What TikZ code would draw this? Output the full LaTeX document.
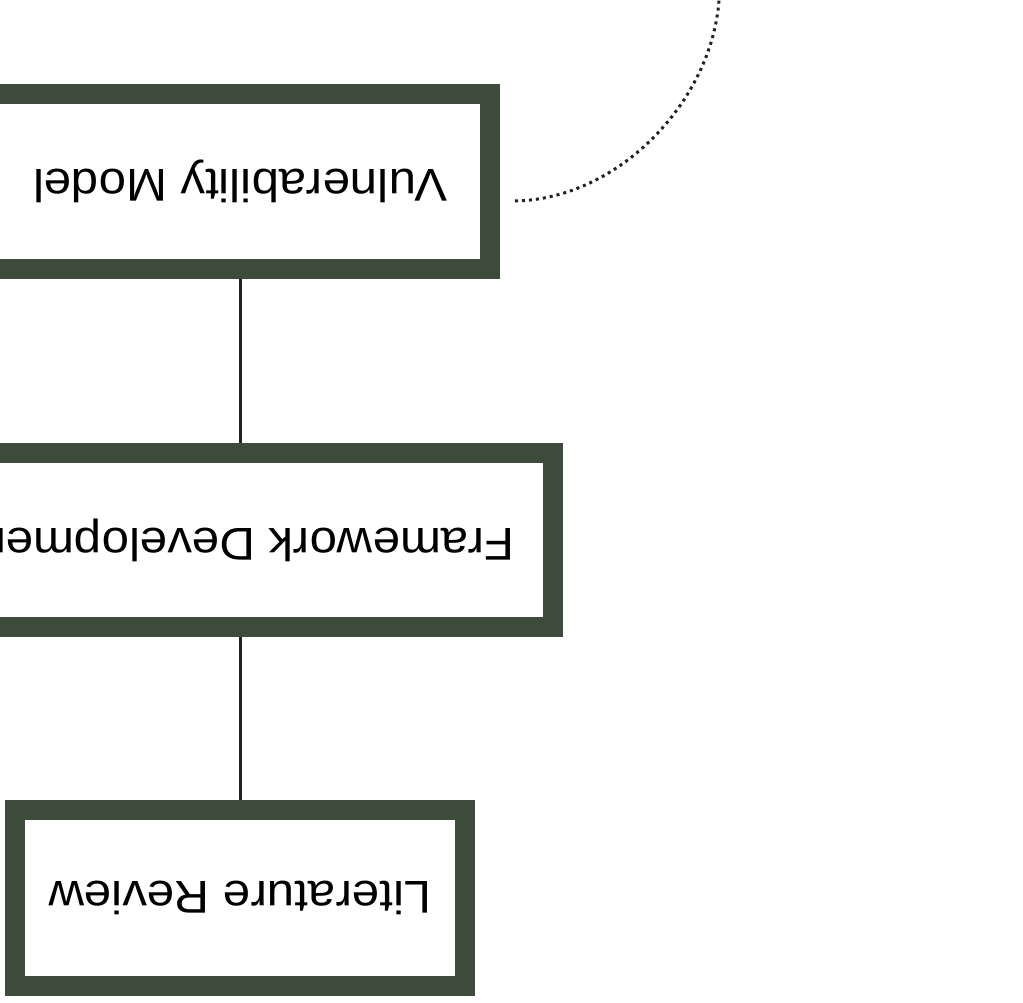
\documentclass[tikz,border=0pt]{standalone}
\usepackage{fontspec}
\setmainfont[FakeStretch=1.07]{Liberation Sans}
\usepackage{graphicx}
\definecolor{framegreen}{HTML}{3C4B3A}
\definecolor{wireink}{HTML}{222222}
\tikzset{
  stagebox/.style={rectangle, draw=framegreen, line width=20pt, fill=white,
    inner sep=0pt, font=\fontsize{46}{55}\selectfont},
  wire/.style={draw=wireink, line width=3pt},
  trail/.style={draw=wireink, line width=3pt, dash pattern=on 3pt off 4pt}
}
\newcommand{\flipped}[1]{\rotatebox{180}{#1}}
\begin{document}
\begin{tikzpicture}[x=1pt, y=1pt]
      \useasboundingbox (0,0) rectangle (1023,-1003);
      % Nodes
      \node (vm) at (240,-181.5) [stagebox, minimum width=500pt, minimum height=175pt] {\flipped{Vulnerability Model}};
      \node (fd) at (240,-540) [stagebox, minimum width=626pt, minimum height=174pt] {\flipped{Framework Development}};
      \node (lr) at (240,-898) [stagebox, minimum width=450pt, minimum height=176pt] {\flipped{Literature Review}};

      \coordinate (vmtail) at (515,-201);
      \coordinate (offtop) at (719,0);

      % Edges
      \draw[wire] (vm.south) -- (fd.north);
      \draw[wire] (fd.south) -- (lr.north);
      \draw[trail] (vmtail) .. controls (620,-199) and (712,-100) .. (offtop);
\end{tikzpicture}
\end{document}
